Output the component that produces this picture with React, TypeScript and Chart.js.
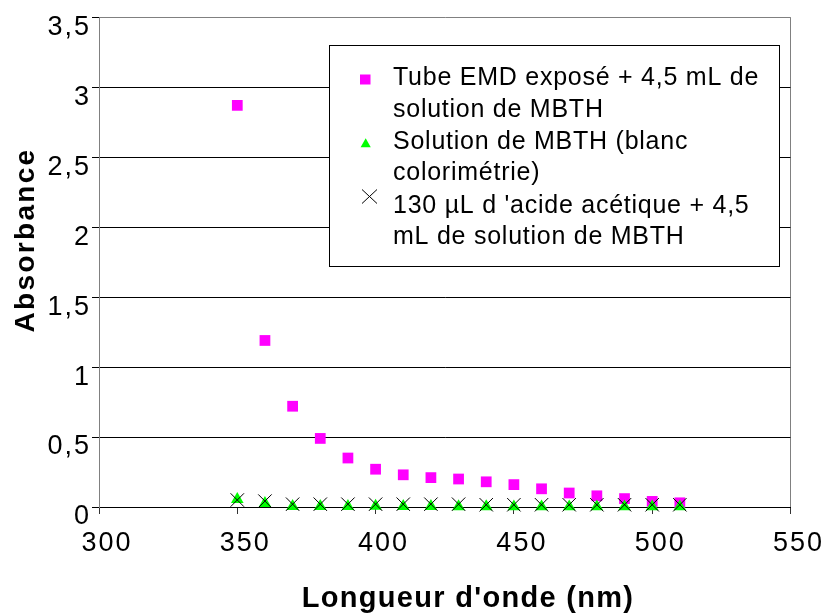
import React, { useEffect, useRef } from 'react';
import { Chart, registerables } from 'chart.js';

Chart.register(...registerables);

// ---- data ----
const wavelengths = [350, 360, 370, 380, 390, 400, 410, 420, 430, 440, 450, 460, 470, 480, 490, 500, 510];
const tubeEMD = [2.87, 1.19, 0.72, 0.49, 0.35, 0.27, 0.23, 0.21, 0.2, 0.18, 0.16, 0.13, 0.1, 0.08, 0.06, 0.04, 0.03];
const blankMBTH = [0.055, 0.026, 0.005, 0.005, 0.005, 0.006, 0.005, 0.005, 0.003, 0.003, 0.002, 0.002, 0.002, 0.002, 0.002, 0.002, 0.002];
const aceticMBTH = [0.05, 0.042, 0.02, 0.02, 0.02, 0.02, 0.02, 0.02, 0.02, 0.016, 0.016, 0.016, 0.016, 0.016, 0.016, 0.016, 0.016];

const seriesLabels = [
  'Tube EMD exposé + 4,5 mL de solution de MBTH',
  'Solution de MBTH (blanc colorimétrie)',
  "130 µL d 'acide acétique + 4,5 mL de solution de MBTH",
];
const legendLines = [
  ['Tube EMD exposé + 4,5 mL de', 'solution de MBTH'],
  ['Solution de MBTH (blanc', 'colorimétrie)'],
  ["130 µL d 'acide acétique + 4,5", 'mL de solution de MBTH'],
];
const xTitle = "Longueur d'onde (nm)";
const yTitle = 'Absorbance';

const FONT = "'Liberation Sans', Arial, Helvetica, sans-serif";

const toPoints = (ys: number[]) => wavelengths.map((x, i) => ({ x, y: ys[i] }));

const textPlugin = {
  id: 'customText',
  beforeDraw(chart: any) {
    (chart.ctx as any).letterSpacing = '2px';
  },
  afterDraw(chart: any) {
    const ctx = chart.ctx as any;
    ctx.save();
    // legend box
    const lx = 329.5, ly = 45.5, lw = 450, lh = 221;
    ctx.fillStyle = '#ffffff';
    ctx.fillRect(lx, ly, lw, lh);
    ctx.strokeStyle = '#000000';
    ctx.lineWidth = 1;
    ctx.strokeRect(lx, ly, lw, lh);

    const ds = chart.data.datasets;
    // legend markers
    ctx.fillStyle = ds[0].backgroundColor;
    ctx.fillRect(360, 74.5, 10.5, 10);
    ctx.fillStyle = ds[1].backgroundColor;
    ctx.beginPath();
    ctx.moveTo(365.7, 138.3);
    ctx.lineTo(370.8, 147.3);
    ctx.lineTo(360.6, 147.3);
    ctx.closePath();
    ctx.fill();
    ctx.strokeStyle = ds[2].borderColor;
    ctx.lineWidth = 1;
    ctx.beginPath();
    ctx.moveTo(362, 189.5);
    ctx.lineTo(377, 203.5);
    ctx.moveTo(377, 189.5);
    ctx.lineTo(362, 203.5);
    ctx.stroke();

    // legend text
    ctx.letterSpacing = '0.75px';
    ctx.font = `25px ${FONT}`;
    ctx.fillStyle = '#000000';
    ctx.textAlign = 'left';
    ctx.textBaseline = 'alphabetic';
    const baselines = [[85, 116.5], [149, 179.5], [213, 244]];
    legendLines.forEach((lines, i) =>
      lines.forEach((t, j) => ctx.fillText(t, 393, baselines[i][j]))
    );

    // axis titles
    ctx.font = `bold 29px ${FONT}`;
    ctx.letterSpacing = '1.3px';
    ctx.textAlign = 'center';
    ctx.fillText(xTitle, 468, 607);

    ctx.letterSpacing = '2.3px';
    ctx.font = `bold 28px ${FONT}`;
    ctx.translate(34, 240);
    ctx.rotate(-Math.PI / 2);
    ctx.fillText(yTitle, 0, 0);
    ctx.restore();
    ctx.letterSpacing = '0px';
  },
};

export default function App() {
  const canvasRef = useRef<HTMLCanvasElement | null>(null);

  useEffect(() => {
    if (!canvasRef.current) return;
    const chart = new Chart(canvasRef.current, {
      type: 'scatter',
      data: {
        datasets: [
          {
            label: seriesLabels[0],
            data: toPoints(tubeEMD),
            pointStyle: 'rect',
            pointRadius: 7.6,
            backgroundColor: '#ff00ff',
            borderColor: '#ff00ff',
            borderWidth: 0,
            order: 3,
            clip: false,
          },
          {
            label: seriesLabels[1],
            data: toPoints(blankMBTH),
            pointStyle: 'triangle',
            pointRadius: 7.3,
            backgroundColor: '#00ff00',
            borderColor: '#00ff00',
            borderWidth: 0,
            order: 2,
            clip: false,
          },
          {
            label: seriesLabels[2],
            data: toPoints(aceticMBTH),
            pointStyle: 'crossRot',
            pointRadius: 9.5,
            backgroundColor: '#000000',
            borderColor: '#000000',
            borderWidth: 1,
            order: 1,
            clip: false,
          },
        ] as any,
      },
      options: {
        animation: false,
        responsive: true,
        maintainAspectRatio: false,
        devicePixelRatio: 1,
        layout: { padding: { top: 16, right: 35, left: 0, bottom: 0 } },
        plugins: {
          legend: { display: false },
          tooltip: { enabled: false },
          title: { display: false },
        },
        scales: {
          x: {
            type: 'linear',
            min: 300,
            max: 550,
            afterFit: (s: any) => {
              s.height = 106;
            },
            ticks: {
              stepSize: 50,
              autoSkip: false,
              maxRotation: 0,
              padding: 13,
              labelOffset: 8,
              color: '#000000',
              font: { family: FONT, size: 27 },
            },
            grid: {
              drawOnChartArea: true,
              color: (c: any) => (c.tick && c.tick.value === 550 ? '#808080' : 'rgba(0,0,0,0)'),
              tickColor: '#333333',
              tickLength: 7,
              lineWidth: 1,
            },
            border: { display: true, color: '#000000', width: 1 },
          },
          y: {
            type: 'linear',
            min: 0,
            max: 3.5,
            afterFit: (s: any) => {
              s.width = 99;
            },
            ticks: {
              stepSize: 0.5,
              padding: 1,
              labelOffset: 10,
              color: '#000000',
              font: { family: FONT, size: 27 },
              callback: (v: any) => String(v).replace('.', ','),
            },
            grid: {
              color: (c: any) => (c.tick && c.tick.value === 3.5 ? '#808080' : '#000000'),
              tickColor: '#000000',
              tickLength: 7,
              lineWidth: 1,
            },
            border: { display: true, color: '#808080', width: 1 },
          },
        },
      },
      plugins: [textPlugin],
    } as any);
    return () => chart.destroy();
  }, []);

  return (
    <div style={{ position: 'absolute', left: 0, top: 0, width: 826, height: 613, background: '#ffffff' }}>
      <canvas ref={canvasRef} />
    </div>
  );
}
